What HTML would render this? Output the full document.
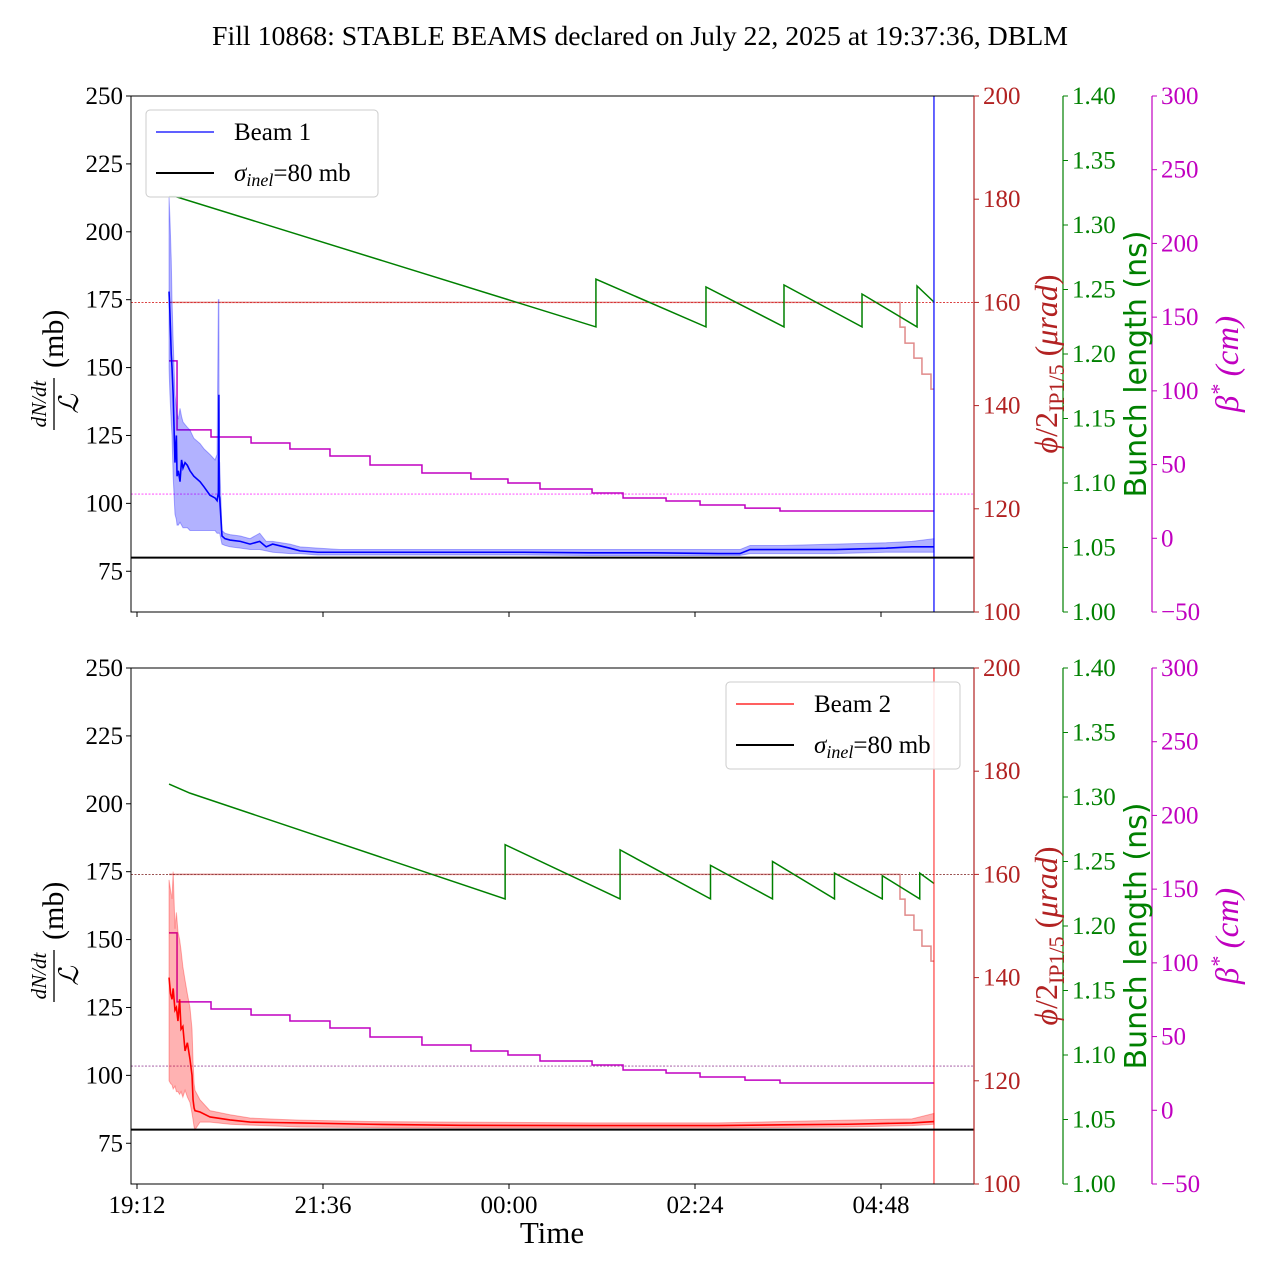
<!DOCTYPE html>
<html><head><meta charset="utf-8">
<style>
body{margin:0;background:#fff;}
svg{display:block;font-family:"Liberation Serif","DejaVu Serif",serif;}
</style></head>
<body>
<svg id="chart" width="1280" height="1280" viewBox="0 0 1280 1280" xmlns="http://www.w3.org/2000/svg">
<text x="640" y="45" font-size="27" text-anchor="middle" textLength="856" lengthAdjust="spacingAndGlyphs">Fill 10868: STABLE BEAMS declared on July 22, 2025 at 19:37:36, DBLM</text>
</svg>
<script>
// ---- data (time in minutes after 19:12) ----
const xTickLabels = ["19:12","21:36","00:00","02:24","04:48"];
const xTickMinutes = [0,144,288,432,576];
const leftTicks = [75,100,125,150,175,200,225,250];
const redTicks = [100,120,140,160,180,200];
const greenTicks = [1.00,1.05,1.10,1.15,1.20,1.25,1.30,1.35,1.40];
const magTicks = [-50,0,50,100,150,200,250,300];

const b1T =   [24.8,25.5,26.5,27.1,28,29.4,30.5,31,32,33.3,34.5,35.6,37.2,39,41,44,48.8,52,56.5,60.4,62,63,63.4,63.6,64,65.8,68.1,72,80,87.5,95,100,105,118.4,126.2,140,157.2,200,250,300,350,400,450,466.8,474.6,500,540,580,600,617];
const b1Mean =[178,170,155,150,140,115,125,110,112,108,116,113,115,114,112,110,108,106,103,102,101,104,140,103,102,88,87,86.5,86,85,86,84,85,83.5,82.5,82,82,82,82,82,81.8,81.8,81.5,81.5,83,83,83,83.5,84,84];
const b1Up =  [213,205,190,175,160,140,135,133,131,135,132,130,129,128,127,124,122,120,118,116,118,175,175,116,115,90,89,88.5,88,87,89,86,86,85,84,83.5,83,83,83,83,83,83,83,83,84.5,84.5,85,85.5,86,87];
const b1Lo =  [150,140,130,125,110,96,94,92,92,93,92,91,91,91,90,90,90,90,90,90,89,89,89,89,89,85,84.5,84,83.5,83,83,82.5,82,81.5,81.5,81,81,81,81,81,80.8,80.8,80.8,80.8,81.5,81.5,81.5,82,82,82];

const b2T =   [24.8,26,27.1,28,29.4,30.5,31.7,33,34.1,35.5,37.2,39,41,42.6,43.4,44.2,44.9,48.8,56.5,72,87.5,110,126.2,180,250,350,450,500,550,600,617];
const b2Mean =[136,130,128,132,124,125,120,128,117,118,109,112,106,100,91,88,87,86.5,84.7,83.6,82.8,82.6,82.5,82,81.6,81.5,81.5,81.8,82,82.5,83];
const b2Up =  [172,168,165,175,154,160,153,150,146,140,135,130,125,117,105,97,94.5,91,87,85.5,84.3,83.8,83.5,83,82.8,82.5,82.5,83,83.5,84,86];
const b2Lo =  [98,97,96.5,95,96,94,94,93,94,92,94.5,92,90,86,83.6,81,80,82.8,82.8,82,81.7,81.3,81,80.8,80.6,80.6,80.6,80.8,81,81.5,82];

const greenTopT = [24.8,30,355.3,355.3,440.5,440.5,500.9,500.9,561.3,561.3,603.9,603.9,617];
const greenTopV = [1.322,1.322,1.221,1.258,1.221,1.252,1.221,1.2535,1.221,1.2465,1.221,1.2527,1.2403];
const greenBotT = [24.8,41,285,285,374,374,444,444,492,492,540,540,577,577,606,606,617];
const greenBotV = [1.310,1.303,1.221,1.263,1.221,1.259,1.221,1.247,1.221,1.250,1.221,1.241,1.221,1.239,1.221,1.241,1.233];

const betaT = [24.8,31,57.3,88.3,118.4,149.4,180.4,220.6,258.5,287.2,312,352.3,376.3,409.6,435.9,470.7,497.8,617];
const betaV = [120.3,73.5,68.7,64.6,60.6,55.8,49.7,44.3,40.2,37.5,33.4,30.7,27.3,25.3,22.6,20.5,18.5,18.5];

const xingT = [24.8,590.7,594.6,601.5,607.7,614.7,617];
const xingV = [160,155.2,152.1,149.2,146.1,143.2,143.2];

const xingRef = 160, betaRef = 30, sigmaInel = 80;

// ---- scales ----
const X0=131, X1=974, H=516;
function xs(m){return 137 + m*186/144;}
function yL(T,v){return T + (250-v)/190*H;}
function yR(T,v){return T + (200-v)/100*H;}
function yG(T,v){return T + (1.4-v)/0.4*H;}
function yM(T,v){return T + (300-v)/350*H;}

const svg=document.getElementById('chart');
const NS="http://www.w3.org/2000/svg";
function el(tag,attrs,parent){const e=document.createElementNS(NS,tag);for(const k in attrs)e.setAttribute(k,attrs[k]);(parent||svg).appendChild(e);return e;}
function stepPath(T,ts,vs,yf){let d='';for(let i=0;i<ts.length;i++){const x=xs(ts[i]);const y=yf(T,vs[i]);if(i===0)d+='M'+x+','+y;else{d+='L'+x+','+yf(T,vs[i-1])+'L'+x+','+y;}}return d;}
function linePath(T,ts,vs,yf){return ts.map((t,i)=>(i?'L':'M')+xs(t)+','+yf(T,vs[i])).join('');}

function panel(T,beam){
  const g=el('g',{});
  
  
  const clipId='clip'+beam;
  const cp=el('clipPath',{id:clipId},g);el('rect',{x:X0,y:T,width:X1-X0,height:H},cp);
  const pg=el('g',{'clip-path':'url(#'+clipId+')'},g);
  const refCol1 = beam===1?'#d62728':'#8b3a3a';
  const refCol2 = beam===1?'#ff33ff':'#9a4a9a';
  // crossing angle
  const xp=el('path',{d:stepPath(T,xingT,xingV,yR),fill:'none',stroke:'#e08a8a','stroke-width':1.5},pg);
  
  
  // reference dotted lines
  const r1=el('line',{x1:X0,x2:X1,y1:yR(T,xingRef),y2:yR(T,xingRef),stroke:refCol1,'stroke-width':0.9,'stroke-dasharray':'2,1.5'},pg);
  
  
  const r2=el('line',{x1:X0,x2:X1,y1:yM(T,betaRef),y2:yM(T,betaRef),stroke:refCol2,'stroke-width':0.9,'stroke-dasharray':'2,1.5'},pg);
  
  
  // beta*
  const bp=el('path',{d:stepPath(T,betaT,betaV,yM),fill:'none',stroke:'#c000c0','stroke-width':1.5},pg);
  
  
  // bunch length
  const gt=beam===1?greenTopT:greenBotT, gv=beam===1?greenTopV:greenBotV;
  const gp=el('path',{d:linePath(T,gt,gv,yG),fill:'none',stroke:'#008000','stroke-width':1.5},pg);
  
  
  // band
  const bt=beam===1?b1T:b2T, bu=beam===1?b1Up:b2Up, bl=beam===1?b1Lo:b2Lo, bm=beam===1?b1Mean:b2Mean;
  const col=beam===1?'#0000ff':'#ff0000';
  let d=bt.map((t,i)=>(i?'L':'M')+xs(t)+','+yL(T,bu[i])).join('');
  for(let i=bt.length-1;i>=0;i--)d+='L'+xs(bt[i])+','+yL(T,bl[i]);
  const band=el('path',{d:d+'Z',fill:col,'fill-opacity':0.3,stroke:col,'stroke-opacity':0.3,'stroke-width':1},pg);
  
  
  const mp=el('path',{d:linePath(T,bt,bm,yL),fill:'none',stroke:col,'stroke-width':1.6},pg);
  
  
  const vl=el('line',{x1:xs(617),x2:xs(617),y1:T,y2:T+H,stroke:col,'stroke-width':1.5,'stroke-opacity':beam===1?0.8:0.6},pg);
  
  
  // sigma inel
  const sl=el('line',{x1:X0,x2:X1,y1:yL(T,sigmaInel),y2:yL(T,sigmaInel),stroke:'#000','stroke-width':2},pg);
  
  
  // frame
  el('rect',{x:X0,y:T,width:X1-X0,height:H,fill:'none',stroke:'#000','stroke-width':1},g);
  // left ticks
  leftTicks.forEach(v=>{const y=yL(T,v);el('line',{x1:X0-5,x2:X0,y1:y,y2:y,stroke:'#000'},g);
    const t=el('text',{x:X0-8,y:y+8,'font-size':25,'text-anchor':'end'},g);t.textContent=v;
    
    });
  // red axis
  el('line',{x1:X1,x2:X1,y1:T,y2:T+H,stroke:'#b22222','stroke-width':1.2},g);
  redTicks.forEach(v=>{const y=yR(T,v);el('line',{x1:X1,x2:X1+5,y1:y,y2:y,stroke:'#b22222'},g);
    const t=el('text',{x:X1+9,y:y+8,'font-size':25,fill:'#b22222'},g);t.textContent=v;
    
    });
  // green axis
  const GX=1063;
  el('line',{x1:GX,x2:GX,y1:T,y2:T+H,stroke:'#008000','stroke-width':1.2},g);
  greenTicks.forEach(v=>{const y=yG(T,v);el('line',{x1:GX,x2:GX+5,y1:y,y2:y,stroke:'#008000'},g);
    const t=el('text',{x:GX+9,y:y+8,'font-size':25,fill:'#008000'},g);t.textContent=v.toFixed(2);
    
    });
  // magenta axis
  const MX=1152;
  el('line',{x1:MX,x2:MX,y1:T,y2:T+H,stroke:'#c000c0','stroke-width':1.2},g);
  magTicks.forEach(v=>{const y=yM(T,v);el('line',{x1:MX,x2:MX+5,y1:y,y2:y,stroke:'#c000c0'},g);
    const t=el('text',{x:MX+9,y:y+8,'font-size':25,fill:'#c000c0'},g);t.textContent=(v<0?'\u2212'+(-v):v);
    
    });
  // x ticks
  xTickMinutes.forEach((m,i)=>{const x=xs(m);el('line',{x1:x,x2:x,y1:T+H,y2:T+H+5,stroke:'#000'},g);
    if(beam===2){const t=el('text',{x:x,y:T+H+29,'font-size':25,'text-anchor':'middle'},g);t.textContent=xTickLabels[i];
      
      }});
  // axis labels
  const cy=T+H/2;
  const ll=el('g',{transform:'translate(54,'+cy+') rotate(-90)'},g);
  
  
  el('text',{x:-50,y:-8,'font-size':21,'font-style':'italic','text-anchor':'middle'},ll).textContent='dN/dt';
  el('line',{x1:-76,x2:-24,y1:0,y2:0,stroke:'#000','stroke-width':1.3},ll);
  el('text',{x:-50,y:24,'font-size':27,'font-style':'italic','text-anchor':'middle'},ll).textContent='\u2112';
  el('text',{x:-14,y:9,'font-size':30},ll).textContent='(mb)';
  const rl=el('text',{transform:'translate(1057,'+(cy+10)+') rotate(-90)','font-size':32,fill:'#b22222','text-anchor':'middle'},g);
  rl.innerHTML='<tspan font-style="italic">ϕ</tspan>/2<tspan font-size="22" dy="7">IP1/5</tspan><tspan dy="-7"> (</tspan><tspan font-style="italic">μrad</tspan>)';
  
  
  const gl=el('text',{transform:'translate(1146,'+(cy+10)+') rotate(-90)','font-size':30,fill:'#008000','text-anchor':'middle',
    'font-family':'"DejaVu Sans","Liberation Sans",sans-serif'},g);
  gl.textContent='Bunch length (ns)';
  
  
  const ml=el('text',{transform:'translate(1238,'+(cy+10)+') rotate(-90)','font-size':33,fill:'#c000c0','text-anchor':'middle','font-style':'italic'},g);
  ml.innerHTML='β<tspan font-size="22" dy="-12">*</tspan><tspan dy="12"> (cm)</tspan>';
  
  
  // legend
  const lx=beam===1?146:726, ly=T+14;
  const lg=el('g',{},g);
  
  
  el('rect',{x:lx,y:ly,width:beam===1?232:234,height:87,rx:4,fill:'#fff','fill-opacity':0.85,stroke:'#ccc'},lg);
  el('line',{x1:lx+10,x2:lx+68,y1:ly+22,y2:ly+22,stroke:col,'stroke-width':1.2},lg);
  el('text',{x:lx+88,y:ly+30,'font-size':25},lg).textContent='Beam '+beam;
  el('line',{x1:lx+10,x2:lx+68,y1:ly+63,y2:ly+63,stroke:'#000','stroke-width':2},lg);
  const st=el('text',{x:lx+88,y:ly+71,'font-size':25},lg);
  st.innerHTML='<tspan font-style="italic">σ</tspan><tspan font-style="italic" font-size="18" dy="5">inel</tspan><tspan dy="-5">=80 mb</tspan>';
}
panel(96,1);
panel(668,2);
const xt=el('text',{x:552,y:1243,'font-size':31,'text-anchor':'middle'});
xt.textContent='Time';


</script>
</body></html>
